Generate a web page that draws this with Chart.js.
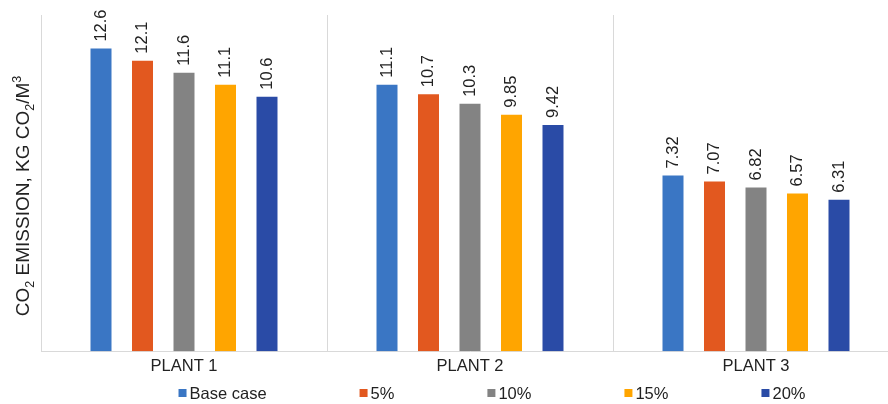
<!DOCTYPE html>
<html>
<head>
<meta charset="utf-8">
<script src="https://cdn.jsdelivr.net/npm/chart.js@4/dist/chart.umd.min.js"></script>
<style>
  html, body { margin: 0; padding: 0; overflow: hidden; background: #fff; width: 888px; height: 404px; }
  #wrap { width: 900px; height: 404px; }
  canvas { display: block; }
</style>
</head>
<body>
<div id="wrap"><canvas id="c" width="900" height="404"></canvas></div>
<script>
// Categories and series (CO2 emission, kg CO2 per m3)
const plants = ['PLANT 1', 'PLANT 2', 'PLANT 3'];
const seriesNames = ['Base case', '5%', '10%', '15%', '20%'];
const baseCase = [12.6, 11.1, 7.32];
const pct5 = [12.1, 10.7, 7.07];
const pct10 = [11.6, 10.3, 6.82];
const pct15 = [11.1, 9.85, 6.57];
const pct20 = [10.6, 9.42, 6.31];
const seriesColors = ['#3a76c4', '#e2581f', '#838383', '#ffa500', '#2a4ba6'];
const yMax = 14;

const FONT = '"Liberation Sans", Arial, sans-serif';
const TEXT = '#222222';
const GRID = '#d9d9d9';

const seriesValues = [baseCase, pct5, pct10, pct15, pct20];

// Rotated value labels above every bar
const valueLabels = {
  id: 'valueLabels',
  afterDatasetsDraw(chart) {
    const ctx = chart.ctx;
    ctx.save();
    ctx.font = '16.5px ' + FONT;
    ctx.fillStyle = TEXT;
    ctx.textAlign = 'left';
    ctx.textBaseline = 'middle';
    chart.data.datasets.forEach((ds, i) => {
      chart.getDatasetMeta(i).data.forEach((bar, j) => {
        ctx.save();
        ctx.translate(bar.x, bar.y - 7);
        ctx.rotate(-Math.PI / 2);
        ctx.fillText(String(ds.data[j]), 0, 0);
        ctx.restore();
      });
    });
    ctx.restore();
  }
};

// Vertical axis title with sub/superscripts
const axisTitle = {
  id: 'axisTitle',
  afterDraw(chart) {
    const ctx = chart.ctx;
    const parts = [['CO', 0], ['2', 1], [' EMISSION, KG CO', 0], ['2', 1], ['/M', 0], ['3', 2]];
    const big = '19px ' + FONT, small = '12.5px ' + FONT;
    ctx.save();
    let total = 0;
    parts.forEach(p => { ctx.font = p[1] ? small : big; total += ctx.measureText(p[0]).width; });
    ctx.translate(22, 196);
    ctx.rotate(-Math.PI / 2);
    ctx.fillStyle = TEXT;
    ctx.textBaseline = 'alphabetic';
    ctx.textAlign = 'left';
    let x = -total / 2;
    parts.forEach(p => {
      ctx.font = p[1] ? small : big;
      const dy = p[1] === 1 ? 11.5 : (p[1] === 2 ? -1.5 : 7);
      ctx.fillText(p[0], x, dy);
      x += ctx.measureText(p[0]).width;
    });
    ctx.restore();
  }
};

// Legend row along the bottom
const bottomLegend = {
  id: 'bottomLegend',
  afterDraw(chart) {
    const ctx = chart.ctx;
    const box = 8, gapBox = 3, gapItem = 93, cy = 393, center = 492;
    ctx.save();
    ctx.font = '16.5px ' + FONT;
    ctx.textBaseline = 'middle';
    ctx.textAlign = 'left';
    const items = chart.data.datasets.map(ds => ({ text: ds.label, color: ds.backgroundColor, w: box + gapBox + ctx.measureText(ds.label).width }));
    const total = items.reduce((s, it) => s + it.w, 0) + gapItem * (items.length - 1);
    let x = center - total / 2;
    items.forEach(it => {
      ctx.fillStyle = it.color;
      ctx.fillRect(x, cy - box / 2, box, box);
      ctx.fillStyle = TEXT;
      ctx.fillText(it.text, x + box + gapBox, cy + 1);
      x += it.w + gapItem;
    });
    ctx.restore();
  }
};

new Chart(document.getElementById('c'), {
  type: 'bar',
  data: {
    labels: plants,
    datasets: seriesNames.map((name, i) => ({
      label: name,
      data: seriesValues[i],
      backgroundColor: seriesColors[i],
      borderWidth: 0,
      categoryPercentage: 0.7255,
      barPercentage: 0.506
    }))
  },
  options: {
    responsive: false,
    animation: false,
    devicePixelRatio: 1,
    layout: { padding: { left: 0, right: 1, top: 15, bottom: 23 } },
    plugins: {
      legend: { display: false },
      tooltip: { enabled: false },
      title: { display: false }
    },
    scales: {
      x: {
        offset: true,
        grid: { display: true, offset: true, color: GRID, lineWidth: 1, drawTicks: false },
        border: { display: true, color: GRID, width: 1 },
        ticks: { color: TEXT, font: { family: FONT, size: 16.5 }, padding: 5, maxRotation: 0 }
      },
      y: {
        min: 0,
        max: yMax,
        grid: { display: false, drawTicks: false },
        border: { display: false },
        ticks: { display: false },
        afterFit(scale) { scale.width = 41; }
      }
    }
  },
  plugins: [valueLabels, axisTitle, bottomLegend]
});
</script>
</body>
</html>
